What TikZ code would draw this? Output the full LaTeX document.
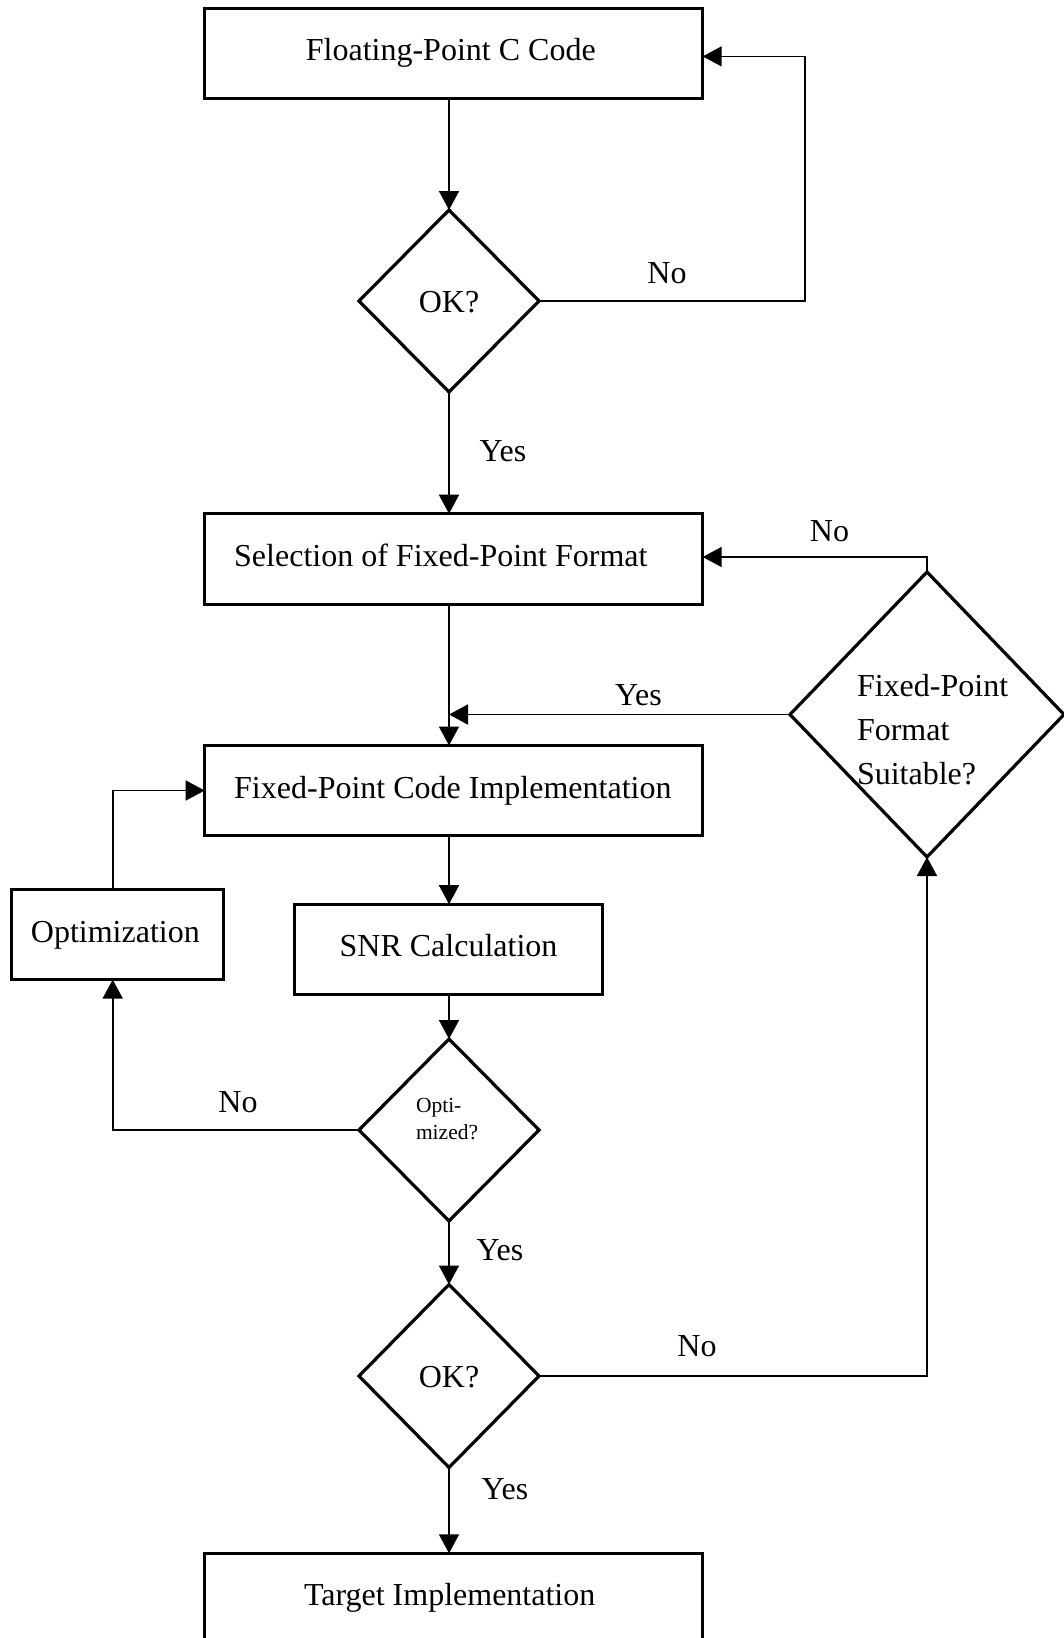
\documentclass[tikz,border=0pt]{standalone}
\usepackage{fontspec}
\setmainfont{Liberation Serif}
\usetikzlibrary{shapes.geometric,arrows.meta}

% fixed-width, left-aligned line inside a box
\newcommand{\boxline}[2]{\makebox[#1][l]{#2}}

\begin{document}
\begin{tikzpicture}[x=1pt,y=-1pt,
  every node/.style={inner sep=0pt, outer sep=0pt},
  bigfont/.style={font=\fontsize{32}{38}\selectfont},
  stepbox/.style={draw, rectangle, line width=3.2pt, minimum height=90pt,
    bigfont, text height=22.4pt, text depth=7.2pt},
  decision/.style={draw, diamond, line width=3.2pt, minimum width=180pt, minimum height=182pt},
  flow/.style={line width=1.6pt, -{Triangle[length=19pt,width=20pt]}},
  lbl/.style={bigfont, anchor=base},
]
\useasboundingbox (0,0) rectangle (1064,1638);
\clip (0,0) rectangle (1064,1638);

% process boxes
\node[stepbox, minimum width=498pt] (b1) at (453.7,53.3) {\boxline{295.6pt}{Floating-Point C Code}};
\node[stepbox, minimum width=498pt, minimum height=91pt] (b2) at (453.7,559.2) {\boxline{439pt}{Selection of Fixed-Point Format}};
\node[stepbox, minimum width=498pt] (b3) at (453.7,790.5) {\boxline{439pt}{Fixed-Point Code Implementation}};
\node[stepbox, minimum width=212.4pt] (opt) at (117.3,934.6) {\boxline{172.8pt}{Optimization}};
\node[stepbox, minimum width=308pt] (snr) at (448.5,949.2) {SNR Calculation};
\node[stepbox, minimum width=498pt] (tgt) at (453.7,1598.3) {\boxline{299.4pt}{Target Implementation}};

% decisions
\node[decision] (d1) at (449,301) {};
\node[decision, minimum width=274pt, minimum height=285pt] (d2) at (927,714.5) {};
\node[decision] (d3) at (449,1130) {};
\node[decision, minimum height=183pt] (d4) at (449,1376) {};

% decision texts
\node[lbl] (q1) at (449,312.5) {OK?};
\node[anchor=base west, align=left, text width=220pt, font=\fontsize{32}{44.2}\selectfont] (q2) at (857,696) {Fixed-Point\\Format\\Suitable?};
\node[anchor=base west, align=left, text width=90pt, font=\fontsize{21.5}{27}\selectfont] (q3) at (416,1112.3) {Opti-\\mized?};
\node[lbl] (q4) at (449,1387) {OK?};

% routing points
\coordinate (c1) at (805,56.4);
\coordinate (c2) at (927,557);
\coordinate (c3) at (112.7,1130);

% connectors
\draw[flow] (b1.south -| d1.north) -- (d1.north);
\draw[flow] (d1.east) -- (d1.east -| c1) -- (c1) -- (c1 -| b1.east);
\draw[flow] (d1.south) -- (d1.south |- b2.north);
\draw[flow] (d2.north) -- (c2) -- (c2 -| b2.east);
\draw[flow] (b2.south -| d1.south) -- (b3.north -| d1.south);
\draw[flow] (d2.west) -- (d2.west -| d1.south);
\draw[flow] (b3.south -| d3.north) -- (snr.north -| d3.north);
\draw[flow] (snr.south -| d3.north) -- (d3.north);
\draw[flow] (d3.west) -- (c3) -- (c3 |- opt.south);
\draw[flow] (c3 |- opt.north) |- (b3.west);
\draw[flow] (d3.south) -- (d4.north);
\draw[flow] (d4.east) -| (d2.south);
\draw[flow] (d4.south) -- (d4.south |- tgt.north);

% branch labels
\node[lbl] (n1) at (667,283.3) {No};
\node[lbl] (y1) at (503,461.5) {Yes};
\node[lbl] (n2) at (829.5,541) {No};
\node[lbl] (y2) at (638.5,705.3) {Yes};
\node[lbl] (n3) at (238,1112.3) {No};
\node[lbl] (y3) at (500,1260.7) {Yes};
\node[lbl] (n4) at (697,1356.7) {No};
\node[lbl] (y4) at (505,1499.3) {Yes};
\end{tikzpicture}
\end{document}
